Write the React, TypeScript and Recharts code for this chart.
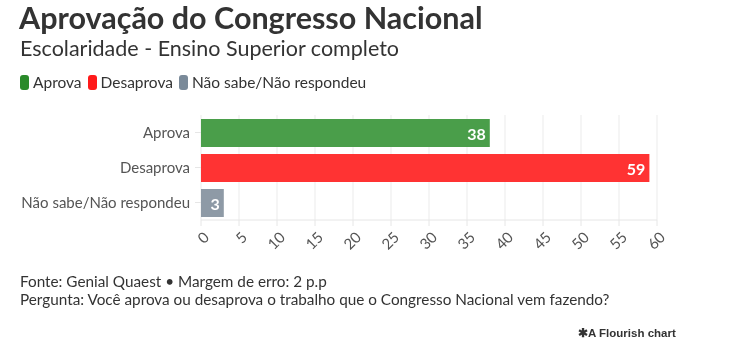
import React from "react";
import { BarChart, Bar, XAxis, YAxis, CartesianGrid, Cell, LabelList } from "recharts";

const categories = ["Aprova", "Desaprova", "Não sabe/Não respondeu"];
const values = [38, 59, 3];
const barColors = ["#4a9e4a", "#ff3333", "#8e9aa6"];
const legendColors = ["#2a8a2a", "#ff1a1a", "#7a8a99"];
const xTicks = [0, 5, 10, 15, 20, 25, 30, 35, 40, 45, 50, 55, 60];

const data = categories.map((name, i) => ({ name, value: values[i], color: barColors[i] }));

const FONT = "Lato, 'Noto Sans', sans-serif";

const ValueLabel = (props: any) => {
  const { x, y, width, height, value, index } = props;
  return (
    <text
      x={x + width - 4}
      y={y + height / 2}
      textAnchor="end"
      dominantBaseline="central"
      fill="#fff"
      stroke={barColors[index]}
      strokeWidth={3}
      paintOrder="stroke"
      fontSize={16}
      fontWeight={700}
      fontFamily={FONT}
    >
      {value}
    </text>
  );
};

const RotatedTick = (props: any) => {
  const { x, y, payload } = props;
  const tx = x + 5;
  const ty = y + 6;
  return (
    <text
      x={tx}
      y={ty}
      transform={`rotate(-45 ${tx} ${ty})`}
      textAnchor="end"
      dominantBaseline="central"
      fill="#555"
      fontSize={15}
      fontFamily={FONT}
    >
      {payload.value}
    </text>
  );
};

export default function App() {
  return (
    <div
      style={{
        position: "fixed",
        left: 0,
        top: 0,
        width: 729,
        height: 364,
        background: "#fff",
        fontFamily: FONT,
        color: "#333",
      }}
    >
      <div style={{ position: "absolute", left: 19, top: -1, fontSize: 30.5, fontWeight: 700, color: "#333", lineHeight: "36px" }}>
        Aprovação do Congresso Nacional
      </div>
      <div style={{ position: "absolute", left: 20, top: 34, fontSize: 21.5, color: "#333", lineHeight: "28px" }}>
        Escolaridade - Ensino Superior completo
      </div>
      <div style={{ position: "absolute", left: 20, top: 73, display: "flex", fontSize: 15.5, color: "#333" }}>
        {categories.map((c, i) => (
          <div key={c} style={{ display: "flex", alignItems: "center", marginRight: 6 }}>
            <span
              style={{
                display: "inline-block",
                width: 9,
                height: 15,
                borderRadius: 3,
                background: legendColors[i],
                marginRight: 4,
              }}
            />
            <span>{c}</span>
          </div>
        ))}
      </div>

      <div style={{ position: "absolute", left: 0, top: 108 }}>
        <BarChart
          width={729}
          height={159}
          data={data}
          layout="vertical"
          margin={{ top: 7, right: 72, bottom: 0, left: 0 }}
        >
          <CartesianGrid horizontal={false} stroke="#ebebeb" />
          <XAxis
            type="number"
            domain={[0, 60]}
            ticks={xTicks}
            interval={0}
            height={47}
            stroke="#e6e6e6"
            tickLine={{ stroke: "#e6e6e6" }}
            tickSize={6}
            tick={<RotatedTick />}
          />
          <YAxis
            type="category"
            dataKey="name"
            width={201}
            axisLine={false}
            tickLine={{ stroke: "#e6e6e6" }}
            tickSize={6}
            tickMargin={5}
            tick={{ fill: "#555", fontSize: 15, fontFamily: FONT }}
          />
          <Bar dataKey="value" barSize={28} isAnimationActive={false}>
            {data.map((d) => (
              <Cell key={d.name} fill={d.color} />
            ))}
            <LabelList dataKey="value" content={<ValueLabel />} />
          </Bar>
        </BarChart>
      </div>

      <div style={{ position: "absolute", left: 20, top: 272, fontSize: 15.3, lineHeight: "18px", color: "#333" }}>
        <div>Fonte: Genial Quaest • Margem de erro: 2 p.p</div>
        <div>Pergunta: Você aprova ou desaprova o trabalho que o Congresso Nacional vem fazendo?</div>
      </div>
      <div
        style={{
          position: "absolute",
          left: 578,
          top: 326,
          fontSize: 11.5,
          fontWeight: 700,
          color: "#333",
          fontFamily: "'Liberation Sans', Arial, sans-serif",
        }}
      >
        ✱A Flourish chart
      </div>
    </div>
  );
}
